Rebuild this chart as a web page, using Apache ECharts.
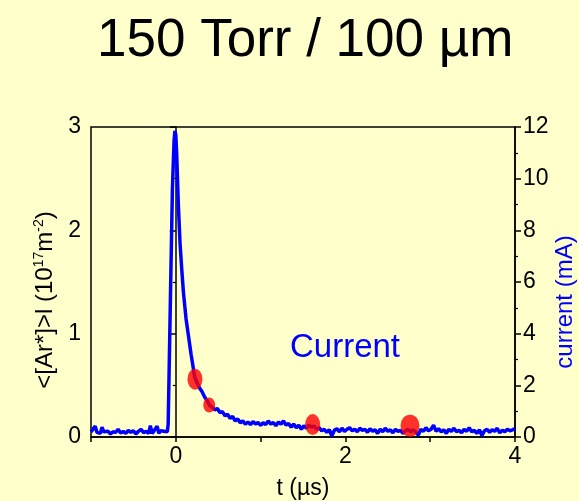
<!DOCTYPE html>
<html>
<head>
<meta charset="utf-8">
<script src="https://cdn.jsdelivr.net/npm/echarts@6/dist/echarts.min.js"></script>
<style>
  html, body { margin: 0; padding: 0; background: #FFFFCC; }
  #chart { width: 579px; height: 501px; }
</style>
</head>
<body>
<div id="chart"></div>
<script>
// current trace (t in µs, current in mA)
const currentT = [
  -1.00, -0.98, -0.95, -0.93, -0.91, -0.89, -0.87, -0.85, -0.83, -0.80, -0.77, -0.74, -0.71, -0.68,
  -0.65, -0.62, -0.59, -0.56, -0.53, -0.50, -0.47, -0.44, -0.41, -0.38, -0.35, -0.32, -0.30, -0.28,
  -0.26, -0.24, -0.22, -0.20, -0.18, -0.16, -0.14, -0.12, -0.10,
  -0.09, -0.08, -0.06, -0.04, -0.02, -0.01, 0.00, 0.01, 0.03, 0.05, 0.07, 0.09, 0.12, 0.15, 0.18,
  0.20, 0.22, 0.25, 0.28, 0.31, 0.34, 0.37, 0.40, 0.43, 0.46, 0.49, 0.52, 0.55, 0.58, 0.61, 0.64,
  0.67, 0.70, 0.73, 0.76, 0.79, 0.82, 0.85, 0.88, 0.91, 0.94, 0.97, 1.00, 1.03, 1.06, 1.09, 1.12,
  1.15, 1.18, 1.21, 1.24, 1.27, 1.30, 1.33, 1.36, 1.39, 1.42, 1.45, 1.48, 1.51, 1.54, 1.57, 1.60,
  1.63, 1.66, 1.69, 1.72, 1.75, 1.78, 1.81, 1.84, 1.87, 1.90, 1.93, 1.96, 1.99, 2.02, 2.05, 2.08,
  2.11, 2.14, 2.17, 2.20, 2.23, 2.26, 2.29, 2.32, 2.35, 2.38, 2.41, 2.44, 2.47, 2.50, 2.53, 2.56,
  2.59, 2.62, 2.65, 2.68, 2.71, 2.74, 2.77, 2.80, 2.83, 2.86, 2.89, 2.92, 2.95, 2.98, 3.01, 3.04,
  3.07, 3.10, 3.13, 3.16, 3.19, 3.22, 3.25, 3.28, 3.31, 3.34, 3.37, 3.40, 3.43, 3.46, 3.49, 3.52,
  3.55, 3.58, 3.61, 3.64, 3.67, 3.70, 3.73, 3.76, 3.79, 3.82, 3.85, 3.88, 3.91, 3.94, 3.97, 4.00
];
const currentI = [
  0.20, 0.15, 0.42, 0.18, 0.20, 0.14, 0.38, 0.20, 0.16, 0.22, 0.12, 0.20, 0.18, 0.30,
  0.15, 0.22, 0.14, 0.26, 0.18, 0.24, 0.12, 0.22, 0.30, 0.16, 0.22, 0.14, 0.44, 0.14,
  0.22, 0.16, 0.42, 0.14, 0.24, 0.20, 0.22, 0.15, 0.20,
  0.50, 2.30, 6.00, 9.60, 11.50, 11.85, 11.70, 11.00, 9.00, 7.50, 6.50, 5.60, 4.60, 3.90, 3.20,
  2.80, 2.35, 2.10, 1.90, 1.75, 1.55, 1.40, 1.22, 1.15, 1.05, 1.10, 0.95, 0.98, 0.82, 0.88, 0.72,
  0.80, 0.62, 0.70, 0.55, 0.62, 0.50, 0.58, 0.48, 0.60, 0.50, 0.56, 0.45, 0.55, 0.48, 0.62, 0.50,
  0.56, 0.44, 0.58, 0.50, 0.62, 0.46, 0.52, 0.38, 0.50, 0.36, 0.46, 0.30, 0.44, 0.34, 0.46, 0.38,
  0.42, 0.30, 0.36, 0.24, 0.30, 0.18, 0.28, 0.04, 0.26, 0.32, 0.20, 0.34, 0.22, 0.30, 0.36, 0.24,
  0.30, 0.20, 0.34, 0.26, 0.30, 0.18, 0.32, 0.22, 0.28, 0.14, 0.30, 0.20, 0.34, 0.22, 0.28, 0.16,
  0.30, 0.22, 0.26, 0.14, 0.24, 0.30, 0.20, 0.28, 0.18, 0.08, 0.30, 0.22, 0.36, 0.24, 0.30, 0.46,
  0.22, 0.32, 0.20, 0.28, 0.14, 0.30, 0.22, 0.34, 0.20, 0.26, 0.16, 0.30, 0.22, 0.36, 0.20, 0.26,
  0.14, 0.28, 0.06, 0.24, 0.30, 0.18, 0.28, 0.22, 0.34, 0.16, 0.26, 0.20, 0.30, 0.24, 0.28, 0.32
];
// <[Ar*]>l points (10^17 m^-2)
const arT = [0.226, 0.394, 1.614, 2.762];
const arVal = [0.56, 0.31, 0.12, 0.11];

const xTicks = [-1, 0, 1, 2, 3, 4];
const leftTicks = [0, 1, 2, 3];
const rightTicks = [0, 2, 4, 6, 8, 10, 12];

// marker ellipse sizes (style)
const dotSizes = [[15, 21], [12, 15], [15, 21], [19, 22]];

const FONT = '"Liberation Sans", Arial, sans-serif';

const chart = echarts.init(document.getElementById('chart'));
chart.setOption({
  backgroundColor: '#FFFFCC',
  animation: false,
  textStyle: { fontFamily: FONT },
  title: {
    text: '150 Torr / 100 µm',
    left: 92,
    top: 10,
    textStyle: { fontFamily: FONT, fontSize: 53, fontWeight: 'normal', color: '#000' }
  },
  grid: {
    left: 91, right: 64, top: 127, bottom: 64,
    outerBoundsMode: 'none', containLabel: false,
    show: true, borderColor: '#000', borderWidth: 1.5, backgroundColor: 'transparent'
  },
  graphic: [{
    type: 'text',
    left: 290,
    top: 331,
    style: { text: 'Current', fill: '#0000FF', font: '33px ' + FONT }
  }],
  xAxis: {
    type: 'value',
    min: xTicks[0], max: xTicks[xTicks.length - 1], interval: 1,
    name: 't (µs)', nameLocation: 'middle', nameGap: 40,
    nameTextStyle: { fontSize: 23, color: '#000' },
    axisLine: { onZero: false, lineStyle: { color: '#000', width: 1.5 } },
    axisTick: { length: 5, lineStyle: { color: '#000', width: 1.5 } },
    axisLabel: { fontSize: 23, color: '#000', margin: 8,
      formatter: v => (Math.round(v) % 2 === 0 ? String(v) : '') },
    splitLine: { show: false }
  },
  yAxis: [{
    type: 'value',
    min: leftTicks[0], max: leftTicks[leftTicks.length - 1], interval: 1,
    name: '<[Ar*]>l (10{sup|17}m{sup|-2})', nameLocation: 'middle', nameGap: 33,
    nameMoveOverlap: false,
    nameTextStyle: { fontSize: 24, color: '#000', padding: [0, 36, 0, 0],
      rich: { sup: { fontSize: 14, verticalAlign: 'top', padding: [0, 0, 12, 0] } } },
    axisLine: { show: true, lineStyle: { color: '#000', width: 1.5 } },
    axisTick: { length: 6, lineStyle: { color: '#000', width: 1.5 } },
    minorTick: { show: true, splitNumber: 2, length: 3, lineStyle: { color: '#000', width: 1.2 } },
    axisLabel: { fontSize: 23, color: '#000', margin: 10 },
    splitLine: { show: false }
  }, {
    type: 'value',
    position: 'right',
    min: rightTicks[0], max: rightTicks[rightTicks.length - 1], interval: 2,
    name: 'current (mA)', nameLocation: 'middle', nameGap: 38,
    nameMoveOverlap: false,
    nameTextStyle: { fontSize: 24, color: '#0000FF', padding: [0, 40, 0, 0] },
    axisLine: { show: true, lineStyle: { color: '#000', width: 1.5 } },
    axisTick: { length: 6, lineStyle: { color: '#000', width: 1.5 } },
    minorTick: { show: true, splitNumber: 2, length: 3, lineStyle: { color: '#000', width: 1.2 } },
    axisLabel: { fontSize: 23, color: '#000', margin: 8 },
    splitLine: { show: false }
  }],
  series: [{
    name: 'current',
    type: 'line',
    yAxisIndex: 1,
    data: currentT.map((t, i) => [t, currentI[i]]),
    showSymbol: false,
    lineStyle: { color: '#0000FF', width: 3.5 },
    z: 2
  }, {
    name: 'Ar',
    type: 'scatter',
    yAxisIndex: 0,
    data: arT.map((t, i) => ({ value: [t, arVal[i]], symbolSize: dotSizes[i] })),
    itemStyle: { color: '#FF0000' },
    z: 3
  }]
});
</script>
</body>
</html>
